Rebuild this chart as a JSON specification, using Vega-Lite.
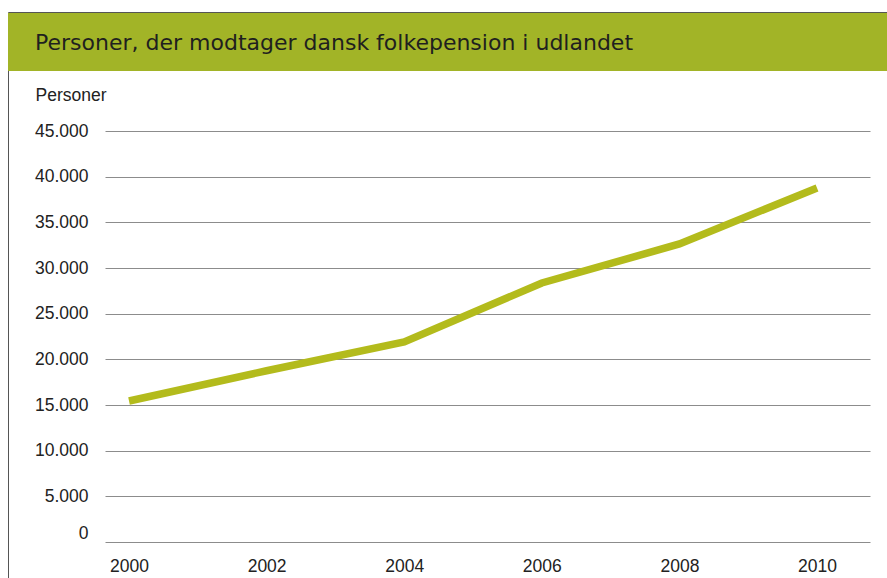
{
  "$schema": "https://vega.github.io/schema/vega-lite/v6.json",
  "width": 879,
  "height": 566,
  "autosize": {"type": "none"},
  "padding": {"left": 8, "top": 12, "right": 0, "bottom": 0},
  "background": "white",
  "config": {
    "view": {"stroke": "#555555", "strokeWidth": 1},
    "font": "Liberation Sans"
  },
  "title": {
    "text": "Personer, der modtager dansk folkepension i udlandet",
    "anchor": "start",
    "frame": "group",
    "orient": "top",
    "offset": -60,
    "dx": 27,
    "baseline": "alphabetic",
    "font": "DejaVu Sans",
    "fontSize": 22,
    "fontWeight": "normal",
    "color": "#1f1f1f",
    "zindex": 1
  },
  "layer": [
    {
      "data": {"values": [{"band": "header"}]},
      "mark": {"type": "rect", "color": "#a2b427"},
      "encoding": {
        "y": {"datum": 57920, "type": "quantitative"},
        "y2": {"datum": 51569}
      }
    },
    {
      "data": {
        "values": [
          {"year": 2000, "personer": 15440},
          {"year": 2002, "personer": 18750},
          {"year": 2004, "personer": 21900},
          {"year": 2006, "personer": 28360},
          {"year": 2008, "personer": 32630},
          {"year": 2010, "personer": 38760}
        ]
      },
      "mark": {"type": "line", "color": "#b3bb1c", "strokeWidth": 7.5, "strokeCap": "butt", "strokeJoin": "miter"},
      "encoding": {
        "x": {
          "field": "year",
          "type": "quantitative",
          "scale": {"domain": [1999.651, 2010.77], "range": [97, 862], "nice": false, "zero": false},
          "axis": {
            "orient": "bottom",
            "offset": -36,
            "values": [2000, 2002, 2004, 2006, 2008, 2010],
            "format": "d",
            "labelFontSize": 17.5,
            "labelColor": "#222222",
            "labelPadding": 15,
            "labelFlush": false,
            "ticks": false,
            "domain": false,
            "grid": false,
            "title": null
          }
        },
        "y": {
          "field": "personer",
          "type": "quantitative",
          "scale": {"domain": [0, 45219], "range": [530, 117], "nice": false, "zero": true},
          "axis": {
            "orient": "left",
            "offset": -97,
            "values": [0, 5000, 10000, 15000, 20000, 25000, 30000, 35000, 40000, 45000],
            "labelExpr": "replace(format(datum.value, ',d'), ',', '.')",
            "labelFlush": true,
            "labelFontSize": 17.5,
            "labelColor": "#222222",
            "labelPadding": 17,
            "ticks": false,
            "domain": false,
            "grid": true,
            "gridColor": "#8c8c8c",
            "gridWidth": 1,
            "title": "Personer",
            "titleAngle": 0,
            "titleX": -70,
            "titleY": 88,
            "titleAlign": "left",
            "titleBaseline": "alphabetic",
            "titleFontSize": 17.5,
            "titleFontWeight": "normal",
            "titleColor": "#222222"
          }
        }
      }
    }
  ]
}
